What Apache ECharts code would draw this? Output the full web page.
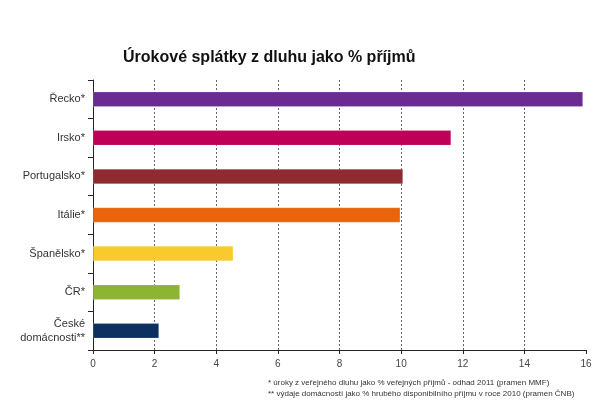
<!DOCTYPE html>
<html><head><meta charset="utf-8">
<script src="https://cdn.jsdelivr.net/npm/echarts@6/dist/echarts.min.js"></script>
<style>html,body{margin:0;padding:0;background:#fff}#c{width:603px;height:417px}</style>
</head><body><div id="c"></div>
<script>
const categories = ['Řecko*', 'Irsko*', 'Portugalsko*', 'Itálie*', 'Španělsko*', 'ČR*', 'České\ndomácnosti**'];
const values = [15.9, 11.62, 10.06, 9.97, 4.55, 2.82, 2.14];
const barColors = ['#6A2C91', '#BE0059', '#8E2B31', '#E8650F', '#F9CA2C', '#8DB532', '#0C3161'];
const xTicks = [0, 2, 4, 6, 8, 10, 12, 14, 16];
const titleText = 'Úrokové splátky z dluhu jako % příjmů';
const note1 = '* úroky z veřejného dluhu jako % veřejných příjmů - odhad 2011 (pramen MMF)';
const note2 = '** výdaje domácností jako % hrubého disponibilního příjmu v roce 2010 (pramen ČNB)';

const chart = echarts.init(document.getElementById('c'), null, {renderer: 'canvas'});
chart.setOption({
  backgroundColor: '#fff',
  animation: false,
  title: {
    text: titleText, left: 118, top: 45,
    textStyle: {fontFamily: 'Liberation Sans, Arial', fontSize: 16, fontWeight: 'bold', color: '#111'}
  },
  graphic: [
    {type: 'text', left: 268, top: 379, style: {text: note1, fontFamily: 'Liberation Sans, Arial', fontSize: 8, fill: '#333'}},
    {type: 'text', left: 268, top: 390, style: {text: note2, fontFamily: 'Liberation Sans, Arial', fontSize: 8, fill: '#333'}}
  ],
  grid: {left: 93, right: 17, top: 80, bottom: 67, containLabel: false},
  xAxis: {
    type: 'value', min: xTicks[0], max: xTicks[xTicks.length - 1], interval: 2,
    axisLine: {show: true, lineStyle: {color: '#222', width: 1}},
    axisTick: {show: true, length: 4, lineStyle: {color: '#222'}},
    axisLabel: {color: '#444', fontFamily: 'Liberation Sans, Arial', fontSize: 10, margin: 9},
    splitLine: {show: true, showMinLine: false, showMaxLine: false, lineStyle: {color: '#666', type: [2, 2], width: 1}}
  },
  yAxis: {
    type: 'category', data: categories, inverse: true,
    axisLine: {show: true, lineStyle: {color: '#222', width: 1}},
    axisTick: {show: true, length: 5, alignWithLabel: false, lineStyle: {color: '#222'}},
    axisLabel: {color: '#333', fontFamily: 'Liberation Sans, Arial', fontSize: 11, margin: 8, lineHeight: 14, align: 'right'}
  },
  series: [{
    type: 'bar', barWidth: 15,
    data: values.map((v, i) => ({value: v, itemStyle: {color: barColors[i]}})),
    itemStyle: {borderColor: 'rgba(255,255,255,0.35)', borderWidth: 0.5}
  }]
});
</script></body></html>
